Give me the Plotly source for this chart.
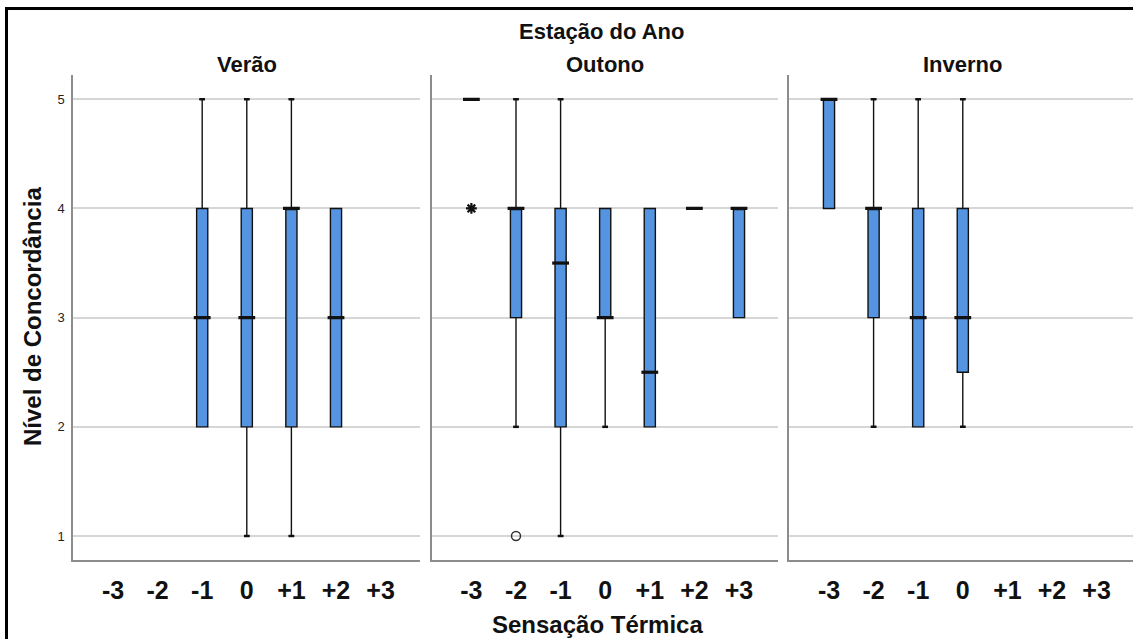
import plotly.graph_objects as go

# Thermal sensation scale (x categories) and agreement level summaries per season
categories = ["-3", "-2", "-1", "0", "+1", "+2", "+3"]
y_ticks = [1, 2, 3, 4, 5]

verao_x = ["-1", "0", "+1", "+2"]
verao_q1 = [2, 2, 2, 2]
verao_med = [3, 3, 4, 3]
verao_q3 = [4, 4, 4, 4]
verao_lo = [2, 1, 1, 2]
verao_hi = [5, 5, 5, 4]

outono_x = ["-3", "-2", "-1", "0", "+1", "+2", "+3"]
outono_q1 = [5, 3, 2, 3, 2, 4, 3]
outono_med = [5, 4, 3.5, 3, 2.5, 4, 4]
outono_q3 = [5, 4, 4, 4, 4, 4, 4]
outono_lo = [5, 2, 1, 2, 2, 4, 3]
outono_hi = [5, 5, 5, 4, 4, 4, 4]
outono_out_x = ["-2"]
outono_out_y = [1]
outono_ext_x = ["-3"]
outono_ext_y = [4]

inverno_x = ["-3", "-2", "-1", "0"]
inverno_q1 = [4, 3, 2, 2.5]
inverno_med = [5, 4, 3, 3]
inverno_q3 = [5, 4, 4, 4]
inverno_lo = [4, 2, 2, 2]
inverno_hi = [5, 5, 5, 5]

panels = [
    ("Verão", verao_x, verao_q1, verao_med, verao_q3, verao_lo, verao_hi),
    ("Outono", outono_x, outono_q1, outono_med, outono_q3, outono_lo, outono_hi),
    ("Inverno", inverno_x, inverno_q1, inverno_med, inverno_q3, inverno_lo, inverno_hi),
]

W, H = 1133, 639
FONT = "Liberation Sans, Arial, sans-serif"
BOX_FILL = "#5494e0"
INK = "#111111"
GRID = "#d6d6d6"
AXIS = "#8c8c8c"

# Panel extents in pixels (left, right); plot area top/bottom in pixels
panel_px = [(73.3, 420.0), (431.7, 778.3), (789.3, 1133.0)]
top_px, bot_px = 75.0, 560.0
unit_px = 44.6  # width of one category slot
ystep_px = 109.2  # height of one agreement level

fig = go.Figure()

for i, (name, xs, q1, med, q3, lo, hi) in enumerate(panels):
    xa = "x" if i == 0 else f"x{i + 1}"
    ya = "y" if i == 0 else f"y{i + 1}"

    fig.add_trace(go.Box(
        x=xs, q1=q1, median=med, q3=q3, lowerfence=lo, upperfence=hi,
        width=0.25, fillcolor=BOX_FILL,
        line=dict(color=INK, width=1.4),
        boxpoints=False, showlegend=False, hoverinfo="skip",
        xaxis=xa, yaxis=ya,
    ))

    # heavy median bars
    fig.add_trace(go.Scatter(
        x=xs, y=med, mode="markers",
        marker=dict(symbol="line-ew", size=12, color=INK, line=dict(color=INK, width=3.2)),
        showlegend=False, hoverinfo="skip", xaxis=xa, yaxis=ya,
    ))

    # small whisker caps
    cap_x = [x for x, l, a in zip(xs, lo, q1) if l < a] + [x for x, h, b in zip(xs, hi, q3) if h > b]
    cap_y = [l for l, a in zip(lo, q1) if l < a] + [h for h, b in zip(hi, q3) if h > b]
    fig.add_trace(go.Scatter(
        x=cap_x, y=cap_y, mode="markers",
        marker=dict(symbol="line-ew", size=4, color=INK, line=dict(color=INK, width=2.5)),
        showlegend=False, hoverinfo="skip", xaxis=xa, yaxis=ya,
    ))

# Outliers (circle) and extreme values (star) in Outono
fig.add_trace(go.Scatter(
    x=outono_out_x, y=outono_out_y, mode="markers",
    marker=dict(symbol="circle-open", size=9, color="#333333", line=dict(color="#333333", width=1.5)),
    showlegend=False, hoverinfo="skip", xaxis="x2", yaxis="y2",
))
fig.add_trace(go.Scatter(
    x=outono_ext_x, y=outono_ext_y, mode="markers",
    marker=dict(symbol="asterisk-open", size=9, color=INK, line=dict(color=INK, width=2.2)),
    showlegend=False, hoverinfo="skip", xaxis="x2", yaxis="y2",
))

y_dom = [(H - bot_px) / H, (H - top_px) / H]
y_rng = [1 - (bot_px - 536.0) / ystep_px, 5 + (99.3 - top_px) / ystep_px]

layout = dict(
    width=W, height=H,
    margin=dict(l=0, r=0, t=0, b=0),
    paper_bgcolor="white", plot_bgcolor="white",
    font=dict(family=FONT, color=INK),
    boxmode="overlay",
)

for i, (l, r) in enumerate(panel_px):
    key = "" if i == 0 else str(i + 1)
    span = (r - l) / unit_px
    layout["xaxis" + key] = dict(
        domain=[l / W, r / W], anchor="y" + key,
        type="category", categoryorder="array", categoryarray=categories,
        range=[-0.89, -0.89 + span],
        showgrid=False, zeroline=False,
        showline=True, linecolor=AXIS, linewidth=2,
        ticks="", tickfont=dict(family=FONT, size=25, color=INK, weight="bold"),
        ticklabelstandoff=7,
        fixedrange=True,
    )
    layout["yaxis" + key] = dict(
        domain=y_dom, anchor="x" + key,
        range=y_rng, tickvals=y_ticks,
        showticklabels=(i == 0),
        tickfont=dict(family=FONT, size=13, color="#222222"),
        ticklabelstandoff=4,
        showgrid=True, gridcolor=GRID, gridwidth=2,
        zeroline=False, showline=True, linecolor=AXIS, linewidth=2,
        ticks="", fixedrange=True,
    )

annotations = [
    dict(text="<b>Estação do Ano</b>", x=601 / W, y=(H - 32) / H, xref="paper", yref="paper",
         showarrow=False, xanchor="center", yanchor="middle", font=dict(size=22)),
    dict(text="<b>Sensação Térmica</b>", x=597 / W, y=(H - 624) / H, xref="paper", yref="paper",
         showarrow=False, xanchor="center", yanchor="middle", font=dict(size=24)),
    dict(text="<b>Nível de Concordância</b>", x=32 / W, y=(H - 317) / H, xref="paper", yref="paper",
         showarrow=False, xanchor="center", yanchor="middle", textangle=-90, font=dict(size=24)),
]
for (name, *_), (l, r) in zip(panels, panel_px):
    center = (l + r) / 2 if name != "Inverno" else 962
    annotations.append(dict(
        text=f"<b>{name}</b>", x=center / W, y=(H - 64) / H, xref="paper", yref="paper",
        showarrow=False, xanchor="center", yanchor="middle", font=dict(size=22),
    ))
layout["annotations"] = annotations

# Outer frame around the whole chart
layout["shapes"] = [dict(
    type="rect", xref="paper", yref="paper",
    x0=6.5 / W, x1=1.05, y0=-0.05, y1=(H - 8.5) / H,
    line=dict(color="black", width=3), fillcolor="rgba(0,0,0,0)",
)]

fig.update_layout(**layout)
fig.write_html("out.html")
